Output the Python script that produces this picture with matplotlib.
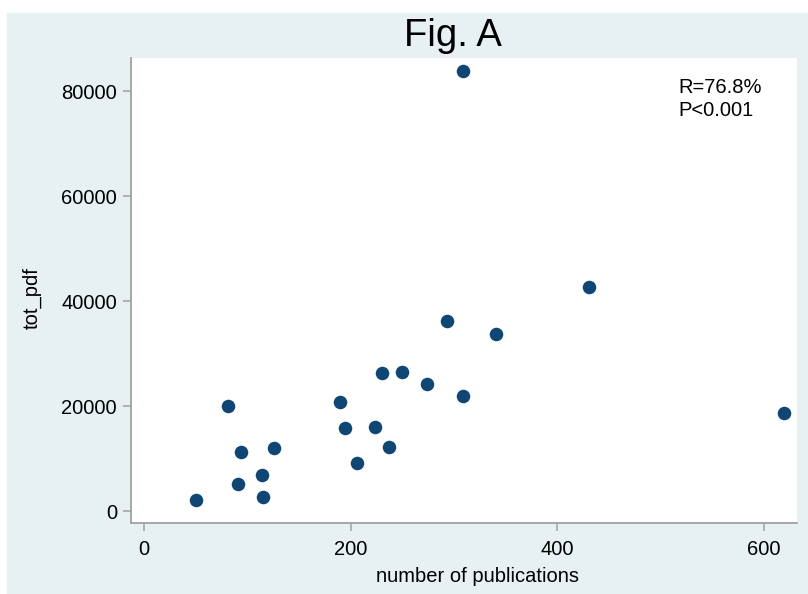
import matplotlib.pyplot as plt

# number of publications vs total pdf downloads
publications = [50.3, 81.0, 93.5, 90.6, 114.0, 115.4, 125.4, 189.2, 194.4, 206.0,
                223.4, 230.5, 236.6, 249.5, 273.7, 308.5, 293.0, 340.7, 308.8,
                430.7, 619.3]
tot_pdf = [2190, 20100, 11280, 5180, 6890, 2820, 12150, 20860, 15970, 9180,
           16160, 26380, 12220, 26510, 24290, 22060, 36290, 33870, 83900,
           42820, 18820]

x_ticks = [0, 200, 400, 600]
y_ticks = [0, 20000, 40000, 60000, 80000]

plt.rcParams['font.family'] = ['Liberation Sans', 'DejaVu Sans']

bg = '#e7f0f2'
axis_col = '#a0a0a0'
dot_col = '#0f4674'

fig = plt.figure(figsize=(8.08, 5.94), dpi=100)
fig.patch.set_facecolor('white')
# light blue graph region with a thin white border top/left
fig.patches.append(plt.Rectangle((7 / 808, 0), 1, 1 - 13 / 594,
                                 transform=fig.transFigure, color=bg, zorder=-10))

ax = fig.add_axes([131 / 808, 1 - 523.3 / 594, (797.3 - 131) / 808, (523.3 - 58) / 594])
ax.set_facecolor('white')
ax.scatter(publications, tot_pdf, s=95, color=dot_col, linewidths=0, zorder=3)

ax.set_xlim(-12.6, 632.2)
ax.set_ylim(-2250, 86380)
ax.set_xticks(x_ticks)
ax.set_yticks(y_ticks)
ax.set_xticklabels([str(t) for t in x_ticks])
ax.set_yticklabels([str(t) for t in y_ticks])

for s in ['top', 'right']:
    ax.spines[s].set_visible(False)
for s in ['left', 'bottom']:
    ax.spines[s].set_color(axis_col)
    ax.spines[s].set_linewidth(1.3)
ax.tick_params(axis='both', colors=axis_col, labelcolor='black', labelsize=14.5,
               length=6, width=1.1, direction='out', pad=4)
ax.tick_params(axis='x', pad=6)

ax.text(516.8, 78570, 'R=76.8%\nP<0.001', fontsize=14.5, ha='left', va='center',
        linespacing=1.25)

fig.text(453 / 808, 1 - 36 / 594, 'Fig. A', fontsize=27.5, ha='center', va='center')
fig.text(478 / 808, 1 - 576 / 594, 'number of publications', fontsize=14.5,
         ha='center', va='center')
fig.text(32 / 808, 1 - 298 / 594, 'tot_pdf', fontsize=14.5, rotation=90,
         ha='center', va='center')

fig.savefig('out.png', dpi=100, facecolor=fig.get_facecolor())
